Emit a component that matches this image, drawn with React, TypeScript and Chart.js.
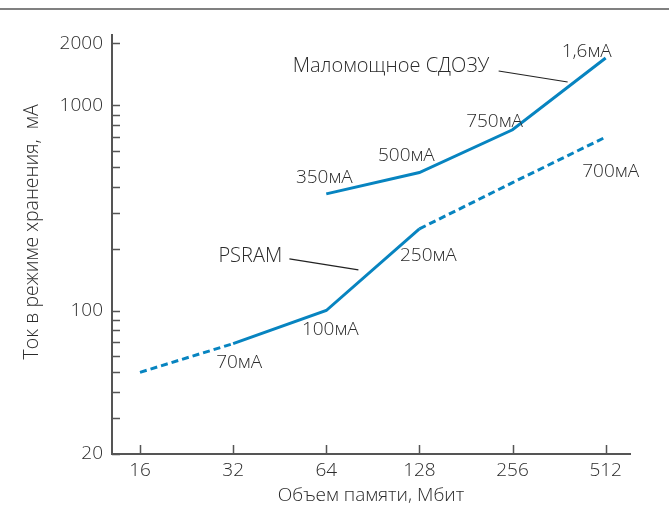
import React, { useEffect, useRef } from "react";
import { Chart, registerables } from "chart.js";

Chart.register(...registerables);

// ---- data ----
const memorySizes = [16, 32, 64, 128, 256, 512];
const sramCurrent: (number | null)[] = [null, null, 370, 470, 760, 1700];
const psramCurrent: (number | null)[] = [50, 69, 100, 250, 420, 700];
const yMajorTicks = [20, 100, 1000, 2000];
const yMinorTicks = [30, 40, 50, 60, 70, 80, 90, 200, 300, 400, 500, 600, 700, 800, 900];
const sramPointLabels = ["", "", "350мА", "500мА", "750мА", "1,6мА"];
const psramPointLabels = ["", "70мА", "100мА", "250мА", "", "700мА"];
const sramName = "Маломощное СДОЗУ";
const psramName = "PSRAM";
const xTitle = "Объем памяти, Мбит";
const yTitle = "Ток в режиме хранения,  мА";

// ---- styling / placement ----
const psramDashedSegments = [0, 3, 4];
const BLUE = "#0784c0";
const AXIS = "#555555";
const TEXT = "#2b2b2b";
const FONT = "'Open Sans', 'Noto Sans', sans-serif";
const WEIGHT = 300;

// label offsets from their data point (dx to text centre, dy to baseline)
const sramLabelOffsets = [null, null, [-2, -11], [-13, -12], [-18, -3], [-19, -1]];
const psramLabelOffsets = [null, [6, 24], [4, 24], [9, 32], null, [5, 40]];
// series name placement relative to an anchor point (left x, baseline), and leader line
const sramNameAnchor = 5;
const sramNamePos = [-313, 14];
const sramLeader = [[-107, 13], [-38, 24]];
const psramNameAnchor = 3;
const psramNamePos = [-201, 33];
const psramLeader = [[-130, 30], [-61, 41]];

const toPoints = (vals: (number | null)[]) =>
  memorySizes
    .map((x, i) => ({ x, y: vals[i] }))
    .filter((p) => p.y !== null) as { x: number; y: number }[];

export default function App() {
  const ref = useRef<HTMLCanvasElement | null>(null);

  useEffect(() => {
    if (!ref.current) return;

    const annotate = {
      id: "annotate",
      beforeDraw(chart: any) {
        const ctx = chart.ctx;
        ctx.save();
        ctx.fillStyle = "#ffffff";
        ctx.fillRect(0, 0, chart.width, chart.height);
        ctx.fillStyle = "#808080";
        ctx.fillRect(0, 8, chart.width, 2);
        ctx.restore();
      },
      afterDraw(chart: any) {
        const ctx = chart.ctx;
        const xs = chart.scales.x;
        const ys = chart.scales.y;
        const area = chart.chartArea;
        ctx.save();
        // inward tick marks
        ctx.strokeStyle = AXIS;
        ctx.lineWidth = 1.5;
        ctx.beginPath();
        ys.ticks.forEach((t: any) => {
          const py = Math.round(ys.getPixelForValue(t.value)) + 0.5;
          ctx.moveTo(area.left, py);
          ctx.lineTo(area.left + 8, py);
        });
        xs.ticks.forEach((t: any) => {
          const px = Math.round(xs.getPixelForValue(t.value)) + 0.5;
          ctx.moveTo(px, area.bottom);
          ctx.lineTo(px, area.bottom - 9);
        });
        ctx.stroke();

        // point labels
        ctx.fillStyle = TEXT;
        ctx.font = `${WEIGHT} 19px ${FONT}`;
        ctx.textBaseline = "alphabetic";
        ctx.textAlign = "center";
        const drawLabels = (vals: (number | null)[], labels: string[], offs: any[]) => {
          vals.forEach((v, i) => {
            if (v === null || !labels[i] || !offs[i]) return;
            const px = xs.getPixelForValue(memorySizes[i]);
            const py = ys.getPixelForValue(v);
            ctx.fillText(labels[i], px + offs[i][0], py + offs[i][1]);
          });
        };
        drawLabels(sramCurrent, sramPointLabels, sramLabelOffsets);
        drawLabels(psramCurrent, psramPointLabels, psramLabelOffsets);

        // series names with leader lines
        const drawName = (name: string, vals: (number | null)[], anchor: number, pos: number[], leader: number[][]) => {
          const px = xs.getPixelForValue(memorySizes[anchor]);
          const py = ys.getPixelForValue(vals[anchor] as number);
          ctx.textAlign = "left";
          ctx.fillStyle = TEXT;
          ctx.font = `${WEIGHT} 20px ${FONT}`;
          ctx.fillText(name, px + pos[0], py + pos[1]);
          ctx.strokeStyle = "#222222";
          ctx.lineWidth = 1.2;
          ctx.beginPath();
          ctx.moveTo(px + leader[0][0], py + leader[0][1]);
          ctx.lineTo(px + leader[1][0], py + leader[1][1]);
          ctx.stroke();
        };
        drawName(sramName, sramCurrent, sramNameAnchor, sramNamePos, sramLeader);
        drawName(psramName, psramCurrent, psramNameAnchor, psramNamePos, psramLeader);
        ctx.restore();
      },
    };

    const chart = new Chart(ref.current, {
      type: "line",
      data: {
        datasets: [
          {
            label: sramName,
            data: toPoints(sramCurrent),
            borderColor: BLUE,
            borderWidth: 3,
            pointRadius: 0,
            tension: 0,
            fill: false,
          },
          {
            label: psramName,
            data: toPoints(psramCurrent),
            borderColor: BLUE,
            borderWidth: 3,
            pointRadius: 0,
            tension: 0,
            fill: false,
            borderCapStyle: "butt",
            segment: {
              borderDash: (c: any) => (psramDashedSegments.includes(c.p0DataIndex) ? [7, 4] : []),
            },
          } as any,
        ],
      },
      options: {
        responsive: false,
        animation: false,
        events: [],
        layout: { padding: { left: 21, right: 39, top: 35, bottom: 24 } },
        plugins: { legend: { display: false }, tooltip: { enabled: false } },
        scales: {
          x: {
            type: "logarithmic",
            min: 12.99,
            max: 613.7,
            afterBuildTicks: (s: any) => {
              s.ticks = memorySizes.map((v) => ({ value: v }));
            },
            afterFit: (s: any) => {
              s.height = 53;
            },
            grid: { display: false, drawTicks: false },
            border: { display: true, color: AXIS, width: 2 },
            ticks: {
              autoSkip: false,
              maxRotation: 0,
              padding: 5,
              color: TEXT,
              font: { family: FONT, size: 19, weight: WEIGHT },
              callback: (v: any) => String(v),
            },
            title: {
              display: true,
              text: xTitle,
              color: TEXT,
              padding: 0,
              font: { family: FONT, size: 19, weight: WEIGHT },
            },
          },
          y: {
            type: "logarithmic",
            min: 20,
            max: 2200,
            afterBuildTicks: (s: any) => {
              s.ticks = [...yMajorTicks, ...yMinorTicks].sort((a, b) => a - b).map((v) => ({ value: v }));
            },
            afterFit: (s: any) => {
              s.width = 112 - 21;
            },
            grid: { display: false, drawTicks: false },
            border: { display: true, color: AXIS, width: 2 },
            ticks: {
              autoSkip: false,
              padding: 9,
              color: TEXT,
              font: { family: FONT, size: 19, weight: WEIGHT },
              callback: (v: any) => (yMajorTicks.includes(Number(v)) ? String(v) : ""),
            },
            title: {
              display: true,
              text: "     " + yTitle,
              color: TEXT,
              padding: 0,
              font: { family: FONT, size: 19.5, weight: WEIGHT },
            },
          },
        },
      },
      plugins: [annotate],
    } as any);

    return () => chart.destroy();
  }, []);

  return (
    <div style={{ position: "fixed", left: 0, top: 0, width: 669, height: 531, background: "#fff" }}>
      <canvas ref={ref} width={669} height={531} style={{ display: "block" }} />
    </div>
  );
}
